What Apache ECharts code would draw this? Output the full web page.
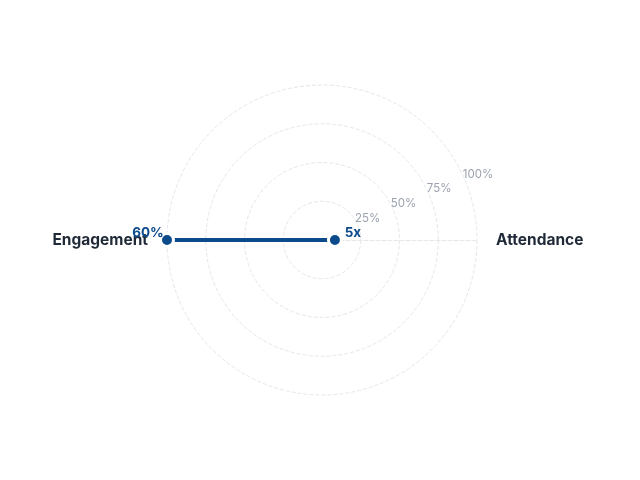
<!DOCTYPE html>
<html>
<head>
<meta charset="utf-8">
<script src="https://cdn.jsdelivr.net/npm/echarts@6/dist/echarts.min.js"></script>
<style>html,body{margin:0;padding:0;background:#fff}#c{width:640px;height:480px}</style>
</head>
<body>
<div id="c"></div>
<script>
const indicators = ['Attendance', 'Engagement'];
const indicatorMax = [60, 60];
const values = [5, 60];
const valueLabels = ['5x', '60%'];
const ringTicks = [25, 50, 75, 100];

const chart = echarts.init(document.getElementById('c'));
const font = 'Inter, "Noto Sans", sans-serif';
chart.setOption({
  backgroundColor: '#ffffff',
  animation: false,
  radar: {
    center: [322, 240],
    radius: 155,
    startAngle: 0,
    shape: 'circle',
    splitNumber: ringTicks.length,
    indicator: indicators.map((n, i) => ({ name: n, max: indicatorMax[i], min: 0 })),
    axisName: { color: '#1f2937', fontWeight: 'bold', fontSize: 15.5, fontFamily: font },
    nameGap: 19,
    splitArea: { show: false },
    splitLine: { lineStyle: { color: '#e5e7eb', type: 'dashed', width: 1 } },
    axisLine: { lineStyle: { color: '#e5e7eb', type: 'dashed', width: 1 } },
    axisTick: { show: false },
    axisLabel: { show: false }
  },
  polar: { center: [322, 240], radius: 155 },
  angleAxis: {
    startAngle: 22, min: 0, max: 360,
    axisLine: { show: false }, axisTick: { show: false },
    axisLabel: { show: false }, splitLine: { show: false }
  },
  radiusAxis: {
    min: 0, max: 100, interval: 25,
    axisLine: { show: false }, axisTick: { show: false }, splitLine: { show: false },
    axisLabel: {
      showMinLabel: false, color: '#9ca3af', fontSize: 11.5, fontFamily: font,
      align: 'left',
      formatter: v => v + '%'
    }
  },
  series: [{
    type: 'radar',
    symbol: 'circle',
    symbolSize: 13,
    itemStyle: { color: '#0b4a8b', borderColor: '#ffffff', borderWidth: 3 },
    lineStyle: { color: '#0b4a8b', width: 4 },
    areaStyle: { opacity: 0 },
    label: {
      show: true, position: 'top', distance: 0, offset: [0, 8],
      fontFamily: font,
      formatter: p => {
        const idx = p.dimensionIndex;
        return idx === 0 ? '{r|' + valueLabels[0] + '}' : '{l|' + valueLabels[1] + '}';
      },
      rich: {
        r: { color: '#0b4a8b', fontWeight: 'bold', fontSize: 13.5, fontFamily: font, padding: [0, 0, 0, 36] },
        l: { color: '#0b4a8b', fontWeight: 'bold', fontSize: 13.5, fontFamily: font, padding: [0, 38, 0, 0] }
      }
    },
    data: [{ value: values, name: 'Metrics' }]
  }]
});
</script>
</body>
</html>
